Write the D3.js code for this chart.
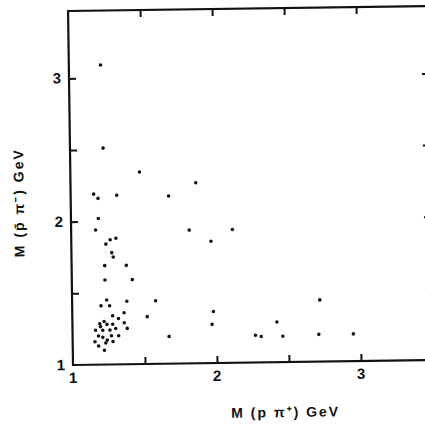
<!DOCTYPE html>
<html>
<head>
<meta charset="utf-8">
<script src="https://cdn.jsdelivr.net/npm/d3@7"></script>
<style>
  html, body { margin: 0; padding: 0; background: #fff; }
  svg { display: block; }
  text { font-family: "Liberation Sans", Arial, Helvetica, sans-serif; font-weight: bold; fill: #111; }
</style>
</head>
<body>
<svg id="chart" width="425" height="428"></svg>
<script>
// Invariant mass of p pi+ (x) against pbar pi- (y), one point per event, GeV
const massPPiPlus = [
  1.22, 1.23, 1.48, 1.87, 1.16, 1.19, 1.32, 1.68, 1.19, 1.17,
  1.82, 2.12, 1.97, 1.27, 1.31, 1.24, 1.28, 1.29, 1.23, 1.38,
  1.23, 1.42, 1.24, 1.38, 1.58, 1.20, 1.26, 1.36, 1.28, 1.32,
  1.52, 1.98, 1.97, 2.42, 2.72, 2.71, 2.95, 2.27, 2.31, 2.46,
  1.67,
  1.19, 1.195, 1.22, 1.24, 1.28, 1.36, 1.16, 1.21, 1.26, 1.30,
  1.38, 1.18, 1.21, 1.27, 1.32, 1.155, 1.24, 1.23, 1.28, 1.18,
  1.22
];
const massPbarPiMinus = [
  3.09, 2.51, 2.34, 2.26, 2.19, 2.16, 2.18, 2.17, 2.02, 1.94,
  1.93, 1.93, 1.85, 1.87, 1.88, 1.84, 1.78, 1.75, 1.69, 1.69,
  1.59, 1.59, 1.45, 1.44, 1.44, 1.41, 1.41, 1.36, 1.34, 1.32,
  1.33, 1.36, 1.27, 1.28, 1.43, 1.19, 1.19, 1.19, 1.18, 1.18,
  1.19,
  1.285, 1.265, 1.30, 1.28, 1.28, 1.29, 1.24, 1.24, 1.24, 1.25,
  1.25, 1.20, 1.19, 1.20, 1.20, 1.16, 1.17, 1.15, 1.16, 1.13,
  1.10
];

const xDomain = [1, 3.5];
const yDomain = [1, 3.47];
const minorTicks = [1.5, 2, 2.5, 3];
const xTickLabels = [1, 2, 3];
const yTickLabels = [1, 2, 3];
const xTitle = "M  (p π⁺)  GeV";
const yTitle = "M  (p\u0304 π⁻)  GeV";

const svg = d3.select("#chart");
const left = 73, bottom = 365, plotW = 360, plotH = 354;

const x = d3.scaleLinear().domain(xDomain).range([left, left + plotW]);
const y = d3.scaleLinear().domain(yDomain).range([bottom, bottom - plotH]);

// The whole frame sits slightly tilted, as on the printed page
const g = svg.append("g").attr("transform", `rotate(-0.8, ${left}, ${bottom})`);

const tickLen = 7;
const stroke = "#111";

// Frame
g.append("rect")
  .attr("x", x(xDomain[0])).attr("y", y(yDomain[1]))
  .attr("width", x(xDomain[1]) - x(xDomain[0]))
  .attr("height", y(yDomain[0]) - y(yDomain[1]))
  .attr("fill", "none").attr("stroke", stroke).attr("stroke-width", 2.2);

// Inward ticks on all four sides
const bottomAxis = d3.axisBottom(x).tickValues(minorTicks).tickSize(-tickLen).tickFormat("");
const topAxis = d3.axisTop(x).tickValues(minorTicks).tickSize(-tickLen).tickFormat("");
const leftAxis = d3.axisLeft(y).tickValues(minorTicks).tickSize(-tickLen).tickFormat("");
const rightAxis = d3.axisRight(y).tickValues(minorTicks).tickSize(-tickLen).tickFormat("");

function styleAxis(sel) {
  sel.select(".domain").remove();
  sel.selectAll(".tick line").attr("stroke", stroke).attr("stroke-width", 2);
}
g.append("g").attr("transform", `translate(0,${y(yDomain[0])})`).call(bottomAxis).call(styleAxis);
g.append("g").attr("transform", `translate(0,${y(yDomain[1])})`).call(topAxis).call(styleAxis);
g.append("g").attr("transform", `translate(${x(xDomain[0])},0)`).call(leftAxis).call(styleAxis);
g.append("g").attr("transform", `translate(${x(xDomain[1])},0)`).call(rightAxis).call(styleAxis);

// Tick labels
g.selectAll(".xlab").data(xTickLabels).join("text")
  .attr("class", "xlab")
  .attr("x", d => x(d)).attr("y", bottom + 18)
  .attr("text-anchor", "middle").attr("font-size", 15)
  .text(d => d);

g.selectAll(".ylab").data(yTickLabels).join("text")
  .attr("class", "ylab")
  .attr("x", left - 8).attr("y", d => y(d) + 5)
  .attr("text-anchor", "end").attr("font-size", 15)
  .text(d => d);

// Axis titles
g.append("text")
  .attr("x", 285).attr("y", 420)
  .attr("text-anchor", "middle").attr("font-size", 14)
  .attr("letter-spacing", 2)
  .text(xTitle);

g.append("text")
  .attr("transform", "translate(26,202) rotate(-90)")
  .attr("text-anchor", "middle").attr("font-size", 14)
  .attr("letter-spacing", 2)
  .text(yTitle);

// Events
const points = massPPiPlus.map((v, i) => [v, massPbarPiMinus[i]]);
g.selectAll(".ev").data(points).join("circle")
  .attr("class", "ev")
  .attr("cx", d => x(d[0])).attr("cy", d => y(d[1]))
  .attr("r", 1.8).attr("fill", "#111");
</script>
</body>
</html>
